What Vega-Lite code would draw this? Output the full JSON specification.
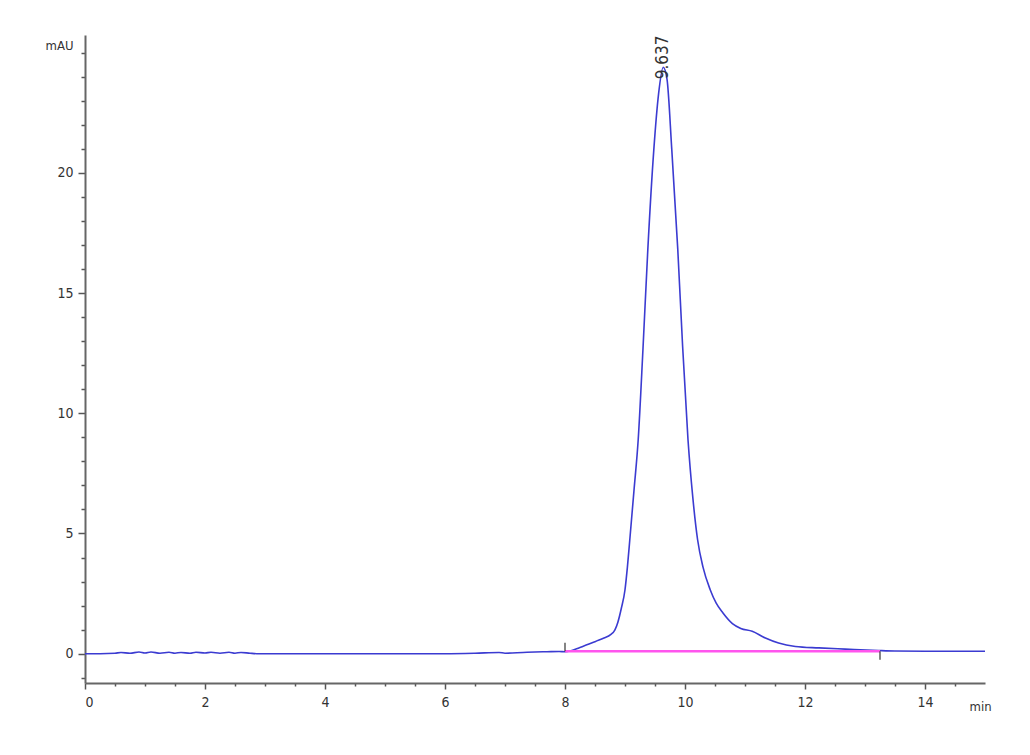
{
  "$schema": "https://vega.github.io/schema/vega-lite/v6.json",
  "width": 900,
  "height": 648,
  "autosize": {"type": "none"},
  "padding": {"left": 85, "top": 35, "right": 45, "bottom": 72},
  "background": "white",
  "config": {
    "view": {"stroke": null},
    "axis": {"labelFont": "DejaVu Sans Condensed, Liberation Sans", "titleFont": "DejaVu Sans Condensed, Liberation Sans", "grid": false}
  },
  "datasets": {
    "trace": [
      {"t": 0, "v": 0.0}, {"t": 0.25, "v": 0.0}, {"t": 0.5, "v": 0.02}, {"t": 0.6, "v": 0.05}, {"t": 0.75, "v": 0.02},
      {"t": 0.9, "v": 0.07}, {"t": 1.0, "v": 0.03}, {"t": 1.1, "v": 0.07}, {"t": 1.25, "v": 0.02}, {"t": 1.4, "v": 0.06},
      {"t": 1.5, "v": 0.02}, {"t": 1.6, "v": 0.05}, {"t": 1.75, "v": 0.02}, {"t": 1.85, "v": 0.06}, {"t": 2.0, "v": 0.03},
      {"t": 2.1, "v": 0.06}, {"t": 2.25, "v": 0.02}, {"t": 2.4, "v": 0.06}, {"t": 2.5, "v": 0.02}, {"t": 2.6, "v": 0.05},
      {"t": 2.75, "v": 0.02}, {"t": 2.9, "v": 0.0}, {"t": 3.5, "v": 0.0}, {"t": 4.0, "v": 0.0}, {"t": 4.5, "v": 0.0},
      {"t": 5.0, "v": 0.0}, {"t": 5.5, "v": 0.0}, {"t": 6.0, "v": 0.0}, {"t": 6.5, "v": 0.02}, {"t": 6.9, "v": 0.05},
      {"t": 7.0, "v": 0.02}, {"t": 7.3, "v": 0.05}, {"t": 7.5, "v": 0.07}, {"t": 7.7, "v": 0.08}, {"t": 7.9, "v": 0.09},
      {"t": 8.0, "v": 0.08}, {"t": 8.1, "v": 0.12}, {"t": 8.24, "v": 0.25}, {"t": 8.4, "v": 0.4}, {"t": 8.51, "v": 0.51},
      {"t": 8.65, "v": 0.65}, {"t": 8.76, "v": 0.79}, {"t": 8.83, "v": 0.98}, {"t": 8.88, "v": 1.3}, {"t": 8.94, "v": 1.9},
      {"t": 9.0, "v": 2.66}, {"t": 9.04, "v": 3.6}, {"t": 9.08, "v": 4.74}, {"t": 9.15, "v": 6.8}, {"t": 9.22, "v": 8.9},
      {"t": 9.3, "v": 12.7}, {"t": 9.38, "v": 16.8}, {"t": 9.48, "v": 20.96}, {"t": 9.56, "v": 23.3}, {"t": 9.637, "v": 24.4},
      {"t": 9.7, "v": 23.9}, {"t": 9.78, "v": 20.96}, {"t": 9.88, "v": 16.8}, {"t": 9.96, "v": 12.8}, {"t": 10.05, "v": 8.9},
      {"t": 10.13, "v": 6.5}, {"t": 10.21, "v": 4.74}, {"t": 10.3, "v": 3.6}, {"t": 10.42, "v": 2.66}, {"t": 10.52, "v": 2.1},
      {"t": 10.63, "v": 1.7}, {"t": 10.79, "v": 1.25}, {"t": 10.93, "v": 1.05}, {"t": 11.12, "v": 0.93}, {"t": 11.34, "v": 0.65},
      {"t": 11.56, "v": 0.44}, {"t": 11.84, "v": 0.3}, {"t": 12.23, "v": 0.24}, {"t": 12.67, "v": 0.19}, {"t": 13.23, "v": 0.13},
      {"t": 13.5, "v": 0.11}, {"t": 14.0, "v": 0.1}, {"t": 14.5, "v": 0.1}, {"t": 15.0, "v": 0.1}
    ],
    "baseline": [
      {"t": 8.0, "v": 0.1}, {"t": 13.25, "v": 0.1}
    ],
    "marks": [
      {"t": 8.0, "lo": 0.1, "hi": 0.45},
      {"t": 13.25, "lo": -0.25, "hi": 0.1}
    ],
    "peaks": [
      {"t": 9.637, "v": 23.9, "label": "9.637"}
    ]
  },
  "layer": [
    {
      "data": {"name": "baseline"},
      "mark": {"type": "line", "color": "#ff55ee", "strokeWidth": 2.5, "opacity": 0},
      "encoding": {
        "x": {
          "field": "t", "type": "quantitative",
          "scale": {"domain": [0, 15], "nice": false, "zero": false},
          "axis": {
            "orient": "bottom",
            "values": [0.5, 1, 1.5, 2.5, 3, 3.5, 4.5, 5, 5.5, 6.5, 7, 7.5, 8.5, 9, 9.5, 10.5, 11, 11.5, 12.5, 13, 13.5, 14.5],
            "labels": false, "domain": false, "title": null,
            "tickSize": 3, "tickWidth": 1.5, "tickColor": "#555"
          }
        },
        "y": {
          "field": "v", "type": "quantitative",
          "scale": {"domain": [-1.22, 25.74], "nice": false, "zero": false},
          "axis": {
            "orient": "left",
            "values": [-1, 1, 2, 3, 4, 6, 7, 8, 9, 11, 12, 13, 14, 16, 17, 18, 19, 21, 22, 23, 24, 25],
            "labels": false, "domain": false, "title": null,
            "tickSize": 4, "tickWidth": 1.5, "tickColor": "#555"
          }
        }
      }
    },
    {
      "layer": [
        {
          "data": {"name": "trace"},
          "mark": {"type": "line", "color": "#3b3bd1", "strokeWidth": 1.6, "interpolate": "monotone"},
          "encoding": {
            "x": {
              "field": "t", "type": "quantitative",
              "scale": {"domain": [0, 15], "nice": false, "zero": false},
              "axis": {
                "orient": "bottom",
                "values": [0, 2, 4, 6, 8, 10, 12, 14],
                "format": "d",
                "tickSize": 6, "tickWidth": 1.5, "tickColor": "#555",
                "domainColor": "#666", "domainWidth": 2,
                "labelFontSize": 14, "labelColor": "#333", "labelPadding": 6,
                "title": "min", "titleFontSize": 13, "titleFontWeight": "normal", "titleColor": "#333",
                "titleAnchor": "start", "titleAlign": "left", "titleBaseline": "middle",
                "titleX": 884, "titleY": 23
              }
            },
            "y": {
              "field": "v", "type": "quantitative",
              "scale": {"domain": [-1.22, 25.74], "nice": false, "zero": false},
              "axis": {
                "orient": "left",
                "values": [0, 5, 10, 15, 20],
                "tickSize": 7, "tickWidth": 1.5, "tickColor": "#555",
                "domainColor": "#666", "domainWidth": 2,
                "labelFontSize": 14, "labelColor": "#333", "labelPadding": 5,
                "title": "mAU", "titleAngle": 0, "titleFontSize": 13, "titleFontWeight": "normal", "titleColor": "#333",
                "titleAlign": "right", "titleBaseline": "middle", "titleX": -12, "titleY": 10
              }
            }
          }
        },
        {
          "data": {"name": "baseline"},
          "mark": {"type": "line", "color": "#ff55ee", "strokeWidth": 2.5},
          "encoding": {
            "x": {"field": "t", "type": "quantitative"},
            "y": {"field": "v", "type": "quantitative"}
          }
        },
        {
          "data": {"name": "marks"},
          "mark": {"type": "rule", "color": "#333", "strokeWidth": 1.2},
          "encoding": {
            "x": {"field": "t", "type": "quantitative"},
            "y": {"field": "lo", "type": "quantitative"},
            "y2": {"field": "hi"}
          }
        },
        {
          "data": {"name": "peaks"},
          "mark": {"type": "text", "angle": 270, "align": "left", "baseline": "middle", "font": "DejaVu Sans Condensed, Liberation Sans", "fontSize": 17, "color": "#333"},
          "encoding": {
            "x": {"field": "t", "type": "quantitative"},
            "y": {"field": "v", "type": "quantitative"},
            "text": {"field": "label"}
          }
        }
      ]
    }
  ],
  "resolve": {"scale": {"x": "independent", "y": "independent"}, "axis": {"x": "independent", "y": "independent"}}
}
